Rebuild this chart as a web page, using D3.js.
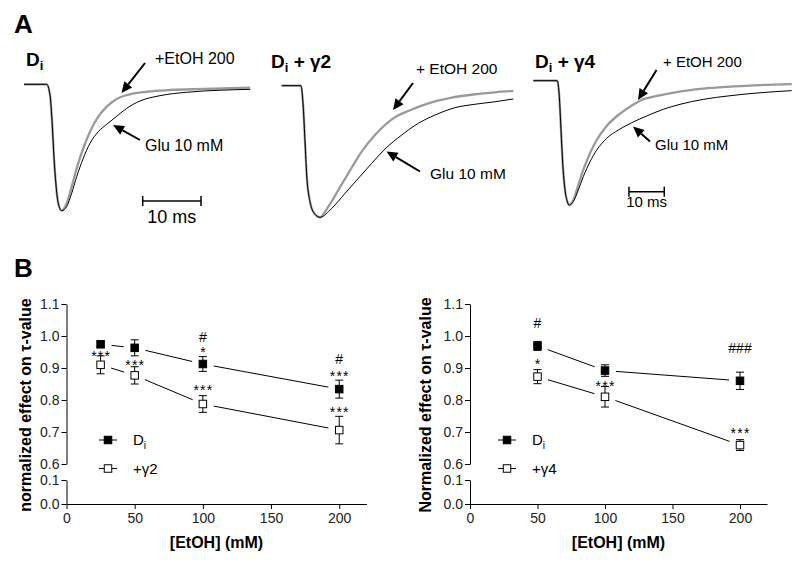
<!DOCTYPE html>
<html>
<head>
<meta charset="utf-8">
<script src="https://cdn.jsdelivr.net/npm/d3@7"></script>
<style>
  body { margin: 0; background: #fff; }
  svg { display: block; font-family: Arial, "Liberation Sans", Helvetica, sans-serif; }
  .axis path, .axis line { stroke: #000; stroke-width: 1; }
  .axis text { font-size: 14px; fill: #222; font-family: Arial, "Liberation Sans", sans-serif; }
</style>
</head>
<body>
<svg id="fig" width="800" height="563"></svg>
<script>
// ---- panel A: current traces, [time (ms), normalized amplitude] ----
const diGlu = [[0,0],[3.89,0],[4.46,-0.085],[4.85,-0.322],[5.15,-0.585],[5.49,-0.797],[5.88,-0.941],[6.47,-1],
  [7.32,-0.968],[8.18,-0.862],[9.04,-0.731],[10.17,-0.585],[11.32,-0.467],[12.74,-0.375],[14.19,-0.316],
  [15.61,-0.264],[17.62,-0.19],[19.9,-0.132],[23.33,-0.09],[27.9,-0.063],[33.6,-0.047],[38.8,-0.04]];
const diEtoh = [[0,0],[3.89,0],[4.46,-0.085],[4.85,-0.322],[5.15,-0.585],[5.49,-0.797],[5.88,-0.941],[6.47,-1],
  [7.32,-0.941],[8.18,-0.81],[9.04,-0.665],[10.17,-0.506],[11.32,-0.375],[12.74,-0.256],[14.19,-0.177],
  [15.9,-0.116],[18.18,-0.079],[21.05,-0.059],[25.04,-0.045],[30.75,-0.037],[38.8,-0.027]];
const g2Glu = [[0,0],[3.31,0],[3.71,-0.172],[4.0,-0.426],[4.29,-0.679],[4.85,-0.881],[5.59,-0.97],[6.57,-1],
  [8.58,-0.932],[10.86,-0.818],[13.14,-0.704],[15.44,-0.59],[17.72,-0.481],[20.58,-0.375],[23.43,-0.286],
  [26.3,-0.223],[29.73,-0.167],[33.16,-0.141],[36.59,-0.122],[39.73,-0.101]];
const g2Etoh = [[0,0],[3.31,0],[3.71,-0.172],[4.0,-0.426],[4.29,-0.679],[4.85,-0.881],[5.59,-0.97],[6.57,-1],
  [8.0,-0.919],[9.71,-0.793],[11.42,-0.666],[13.72,-0.501],[16.0,-0.375],[19.14,-0.248],[21.72,-0.192],
  [25.15,-0.134],[29.16,-0.091],[33.16,-0.065],[36.59,-0.05],[39.73,-0.04]];
const g4Glu = [[0,0],[6.8,0],[7.37,-0.129],[7.85,-0.397],[8.33,-0.665],[8.98,-0.879],[9.63,-0.973],[10.2,-1],
  [11.33,-0.973],[12.75,-0.879],[14.16,-0.772],[16.06,-0.652],[17.96,-0.558],[20.79,-0.463],[24.08,-0.397],
  [27.88,-0.338],[32.12,-0.284],[36.83,-0.23],[41.56,-0.19],[48.16,-0.15],[55.72,-0.121],[64.22,-0.097],[73.2,-0.08]];
const g4Etoh = [[0,0],[6.8,0],[7.37,-0.129],[7.85,-0.397],[8.33,-0.665],[8.98,-0.879],[9.63,-0.973],[10.2,-1],
  [11.33,-0.96],[12.75,-0.839],[14.16,-0.718],[16.06,-0.584],[17.96,-0.477],[20.79,-0.364],[24.08,-0.276],
  [27.39,-0.209],[30.23,-0.161],[34.96,-0.123],[40.62,-0.091],[48.16,-0.064],[55.72,-0.048],[64.22,-0.035],[73.2,-0.027]];

// ---- panel B: normalized tau, mean and SEM ----
const concG2 = [25, 50, 100, 200];
const diMeanG2 = [0.974, 0.963, 0.9125, 0.834];
const diErrG2 = [0.008, 0.025, 0.023, 0.028];
const g2Mean = [0.91, 0.877, 0.7875, 0.706];
const g2Err = [0.028, 0.027, 0.026, 0.043];

const concG4 = [50, 100, 200];
const diMeanG4 = [0.969, 0.892, 0.86];
const diErrG4 = [0.014, 0.018, 0.027];
const g4Mean = [0.873, 0.81, 0.659];
const g4Err = [0.022, 0.032, 0.017];

const xTicks = [0, 50, 100, 150, 200];
const yTicksHigh = [0.6, 0.7, 0.8, 0.9, 1.0, 1.1];
const yTicksLow = [0.0, 0.1];

// significance marks: concentration, y value where the mark is centered, text
const sigG2 = [
  {c: 25, v: 0.948, t: '***'}, {c: 50, v: 0.92, t: '***'},
  {c: 100, v: 0.996, t: '#'}, {c: 100, v: 0.958, t: '*'}, {c: 100, v: 0.84, t: '***'},
  {c: 200, v: 0.927, t: '#'}, {c: 200, v: 0.885, t: '***'}, {c: 200, v: 0.771, t: '***'}
];
const sigG4 = [
  {c: 50, v: 1.04, t: '#'}, {c: 50, v: 0.923, t: '*'},
  {c: 100, v: 0.852, t: '***'},
  {c: 200, v: 0.963, t: '###'}, {c: 200, v: 0.706, t: '***'}
];

const svg = d3.select('#fig');

// ================= A =================
svg.append('text').attr('x', 14).attr('y', 33).attr('font-size', 26).attr('font-weight', 'bold').text('A');

const tracePanels = [
  {glu: diGlu, etoh: diEtoh, left: 24, msPx: 5.83, base: 84.3, amp: 126.4, bar: 20.36, barY: 201, barFont: 18, barTextY: 223},
  {glu: g2Glu, etoh: g2Etoh, left: 281.7, msPx: 5.83, base: 85.7, amp: 131.6},
  {glu: g4Glu, etoh: g4Etoh, left: 533.3, msPx: 3.53, base: 80.7, amp: 124.3, bar: 27.1, barY: 191.7, barFont: 15, barTextY: 207}
];

tracePanels.forEach(p => {
  const x = d3.scaleLinear().domain([0, 1]).range([p.left, p.left + p.msPx]);
  const y = d3.scaleLinear().domain([0, -1]).range([p.base, p.base + p.amp]);
  const line = d3.line().x(d => x(d[0])).y(d => y(d[1])).curve(d3.curveMonotoneX);
  svg.append('path').datum(p.etoh).attr('d', line)
    .attr('fill', 'none').attr('stroke', '#9a9a9a').attr('stroke-width', 2.3);
  svg.append('path').datum(p.glu).attr('d', line)
    .attr('fill', 'none').attr('stroke', '#000').attr('stroke-width', 1);
  if (p.bar !== undefined) {
    const b0 = x(p.bar), b1 = x(p.bar + 10);
    const bar = svg.append('g').attr('stroke', '#000').attr('stroke-width', 1.5);
    bar.append('line').attr('x1', b0).attr('x2', b1).attr('y1', p.barY).attr('y2', p.barY);
    bar.append('line').attr('x1', b0).attr('x2', b0).attr('y1', p.barY - 5).attr('y2', p.barY + 5);
    bar.append('line').attr('x1', b1).attr('x2', b1).attr('y1', p.barY - 5).attr('y2', p.barY + 5);
    svg.append('text').attr('x', (b0 + b1) / 2).attr('y', p.barTextY).attr('text-anchor', 'middle')
      .attr('font-size', p.barFont).text('10 ms');
  }
});

function arrow(x1, y1, x2, y2) {
  const ang = Math.atan2(y2 - y1, x2 - x1), L = 11, Wd = 5;
  const bx = x2 - L * Math.cos(ang), by = y2 - L * Math.sin(ang);
  svg.append('line').attr('x1', x1).attr('y1', y1).attr('x2', bx).attr('y2', by)
    .attr('stroke', '#000').attr('stroke-width', 2);
  const px = -Math.sin(ang) * Wd, py = Math.cos(ang) * Wd;
  svg.append('path').attr('d', `M${x2},${y2}L${bx + px},${by + py}L${bx - px},${by - py}Z`).attr('fill', '#000');
}

function title(x, y, extra) {
  const t = svg.append('text').attr('x', x).attr('y', y).attr('font-size', 19).attr('font-weight', 'bold');
  t.append('tspan').text('D');
  t.append('tspan').attr('font-size', 13).attr('dy', 4).text('i');
  if (extra) t.append('tspan').attr('dy', -4).text(extra);
}
title(26, 66, null);
title(271, 68, ' + γ2');
title(535, 68, ' + γ4');

const lab = (x, y, s, txt) => svg.append('text').attr('x', x).attr('y', y).attr('font-size', s).text(txt);
lab(155, 64, 16, '+EtOH 200');   arrow(145, 63, 121.5, 93);
lab(145, 151, 16, 'Glu 10 mM');  arrow(140, 140, 113, 125);
lab(416, 74, 15.5, '+ EtOH 200'); arrow(413, 83, 393, 110);
lab(430, 179, 15.5, 'Glu 10 mM'); arrow(420, 171.5, 386.5, 151.5);
lab(663, 67, 15, '+ EtOH 200');  arrow(656.5, 70, 638, 100);
lab(655, 150, 15, 'Glu 10 mM');  arrow(650, 141.5, 633, 126.5);

// ================= B =================
svg.append('text').attr('x', 14).attr('y', 277).attr('font-size', 26).attr('font-weight', 'bold').text('B');

function plotB(cfg) {
  const x = d3.scaleLinear().domain([0, 220]).range([cfg.x0, cfg.x0 + cfg.pxPer * 220]);
  const yHigh = d3.scaleLinear().domain([0.6, 1.1]).range([464, 304]);
  const yLow = d3.scaleLinear().domain([0, 0.1]).range([504, 480]);
  const g = svg.append('g');

  g.append('g').attr('class', 'axis').attr('transform', `translate(0,${yLow(0)})`)
    .call(d3.axisBottom(x).tickValues(xTicks).tickSize(5).tickSizeOuter(0).tickPadding(4));
  g.append('g').attr('class', 'axis').attr('transform', `translate(${x(0)},0)`)
    .call(d3.axisLeft(yHigh).tickValues(yTicksHigh).tickFormat(d3.format('.1f')).tickSize(5).tickSizeOuter(0).tickPadding(2));
  g.append('g').attr('class', 'axis').attr('transform', `translate(${x(0)},0)`)
    .call(d3.axisLeft(yLow).tickValues(yTicksLow).tickFormat(d3.format('.1f')).tickSize(5).tickSizeOuter(0).tickPadding(2));

  g.append('text').attr('transform', `translate(${cfg.labelX},405) rotate(-90)`)
    .attr('text-anchor', 'middle').attr('font-size', 16).attr('font-weight', 'bold').text(cfg.ylabel);
  g.append('text').attr('x', x(110)).attr('y', 548).attr('text-anchor', 'middle')
    .attr('font-size', 16).attr('font-weight', 'bold').text('[EtOH] (mM)');

  const gap = 11, half = 3.75;
  cfg.series.forEach(s => {
    const pts = cfg.conc.map((c, i) => [x(c), yHigh(s.mean[i])]);
    for (let i = 0; i < pts.length - 1; i++) {
      const [ax, ay] = pts[i], [bx, by] = pts[i + 1];
      const len = Math.hypot(bx - ax, by - ay), ux = (bx - ax) / len, uy = (by - ay) / len;
      g.append('line').attr('x1', ax + ux * gap).attr('y1', ay + uy * gap)
        .attr('x2', bx - ux * gap).attr('y2', by - uy * gap).attr('stroke', '#000').attr('stroke-width', 1);
    }
    cfg.conc.forEach((c, i) => {
      const cx = x(c), lo = yHigh(s.mean[i] - s.err[i]), hi = yHigh(s.mean[i] + s.err[i]);
      g.append('line').attr('x1', cx).attr('x2', cx).attr('y1', lo).attr('y2', hi).attr('stroke', '#000');
      [lo, hi].forEach(yy => g.append('line').attr('x1', cx - 4).attr('x2', cx + 4)
        .attr('y1', yy).attr('y2', yy).attr('stroke', '#000'));
    });
    g.selectAll(null).data(pts).enter().append('rect')
      .attr('x', d => d[0] - half).attr('y', d => d[1] - half)
      .attr('width', half * 2).attr('height', half * 2)
      .attr('fill', s.filled ? '#000' : '#fff').attr('stroke', '#000').attr('stroke-width', 1);
  });

  cfg.sig.forEach(m => {
    const star = m.t.indexOf('*') >= 0;
    g.append('text').attr('x', x(m.c) + (star ? 0.6 : 0)).attr('y', yHigh(m.v) + (star ? 8 : 5))
      .attr('text-anchor', 'middle').attr('font-size', 14)
      .attr('letter-spacing', star ? 1.2 : 0).attr('fill', '#000').text(m.t);
  });

  // legend
  const lx = cfg.legendX;
  cfg.series.forEach((s, i) => {
    const ly = 440 + i * 28.5;
    g.append('line').attr('x1', lx - 9).attr('x2', lx + 9).attr('y1', ly).attr('y2', ly).attr('stroke', '#000');
    g.append('rect').attr('x', lx - half).attr('y', ly - half).attr('width', half * 2).attr('height', half * 2)
      .attr('fill', s.filled ? '#000' : '#fff').attr('stroke', '#000');
    const t = g.append('text').attr('x', lx + 25).attr('y', ly + 5).attr('font-size', 15);
    if (s.filled) {
      t.append('tspan').text('D');
      t.append('tspan').attr('font-size', 10).attr('dy', 4).text('i');
    } else {
      t.text(s.name);
    }
  });
}

plotB({
  x0: 66.5, pxPer: 1.3636, labelX: 31, legendX: 108,
  ylabel: 'normalized effect on  τ-value',
  conc: concG2, sig: sigG2,
  series: [
    {name: 'Di', mean: diMeanG2, err: diErrG2, filled: true},
    {name: '+γ2', mean: g2Mean, err: g2Err, filled: false}
  ]
});
plotB({
  x0: 470, pxPer: 1.35, labelX: 431, legendX: 507,
  ylabel: 'Normalized effect on  τ-value',
  conc: concG4, sig: sigG4,
  series: [
    {name: 'Di', mean: diMeanG4, err: diErrG4, filled: true},
    {name: '+γ4', mean: g4Mean, err: g4Err, filled: false}
  ]
});
</script>
</body>
</html>
